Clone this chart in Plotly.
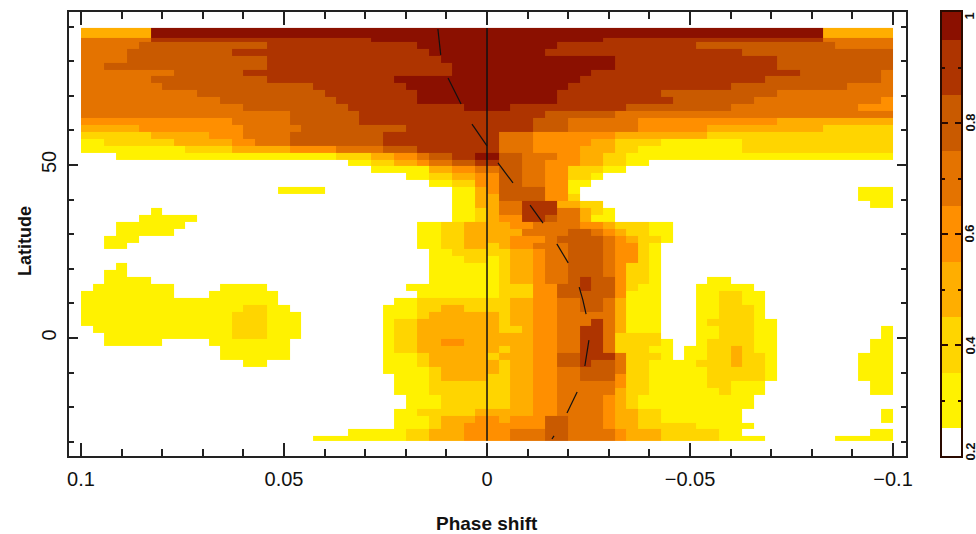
import numpy as np
import plotly.graph_objects as go

# Phase-shift grid (70 columns from +0.1 to -0.1) and latitude rows (north to south)
phase_edges = np.linspace(0.1, -0.1, 71)
lat_edges = [89.6, 86.8] + [round(85.6 - 2 * i, 1) for i in range(58)] + [-29.7]

band_colors = ["#ffffff", "#fff200", "#ffd500", "#ffae00", "#ff8f00",
               "#e47300", "#c95a00", "#ae3400", "#8b1000"]
band_values = [0.2, 0.3, 0.4, 0.5, 0.6, 0.7, 0.8, 0.9, 1.0]
bar_edges = [0.2, 0.25, 0.35, 0.45, 0.55, 0.65, 0.75, 0.85, 0.95, 1.0]

# Each row: "band@end_column" runs
band_rows = [
    "3@6 8@64 3@70",
    "5@6 7@25 8@45 7@64 5@70",
    "5@5 6@16 7@29 8@41 7@53 6@65 5@70",
    "5@4 6@13 7@30 8@40 7@57 6@70",
    "5@4 6@16 7@31 8@46 7@60 6@70",
    "5@2 6@16 7@32 8@46 7@60 6@70",
    "5@8 6@14 7@32 8@44 7@62 6@69 5@70",
    "5@6 6@16 7@27 8@43 7@59 6@69 5@70",
    "5@7 6@20 7@28 8@42 7@56 6@66 5@70",
    "5@10 6@21 7@29 8@41 7@50 6@60 5@70",
    "5@12 6@22 7@29 8@41 7@51 6@58 5@69 4@70",
    "5@14 6@23 7@33 8@37 7@47 6@56 5@67 4@70",
    "5@18 6@24 7@40 6@46 5@70",
    "4@13 5@18 6@24 7@39 6@42 5@48 4@60 3@70",
    "3@5 4@14 5@19 6@28 7@39 6@42 5@48 4@54 3@64 2@70",
    "2@6 3@11 4@14 5@18 6@26 7@36 5@39 4@46 3@54 2@70",
    "1@2 2@8 3@13 4@15 5@18 6@26 7@36 5@39 4@44 3@46 2@50 1@57 2@70",
    "1@9 2@13 3@18 4@22 5@26 6@29 7@36 5@39 4@43 3@46 2@48 1@57 2@70",
    "0@3 1@22 2@25 3@27 4@29 5@30 6@32 7@34 8@36 6@38 5@41 4@43 3@45 2@47 1@70",
    "0@23 1@25 2@27 3@29 4@30 5@32 6@34 7@36 6@38 5@40 4@43 3@45 2@47 1@49 0@70",
    "0@25 1@30 3@32 4@34 5@36 6@38 5@40 4@42 2@45 1@47 0@70",
    "0@28 1@30 2@32 3@34 4@36 6@38 5@40 4@42 2@44 1@45 0@70",
    "0@30 1@32 2@34 4@36 6@38 5@40 4@42 1@44 0@70",
    "0@17 1@21 0@32 1@34 3@35 4@36 6@40 4@42 1@43 0@67 1@70",
    "0@32 1@34 3@36 6@40 4@42 2@43 0@67 1@70",
    "0@32 1@34 3@36 5@38 7@41 3@43 2@45 0@68 1@70",
    "0@6 1@7 0@32 1@34 2@35 3@36 5@38 7@41 5@43 3@44 2@45 1@46 0@70",
    "0@5 1@10 0@32 1@34 2@35 3@36 4@38 7@40 6@41 5@43 3@44 1@46 0@70",
    "0@3 1@9 0@29 1@31 2@33 3@37 4@39 5@43 4@45 3@46 2@49 1@51 0@70",
    "0@3 1@8 0@29 1@31 2@33 3@38 5@42 6@44 5@45 4@46 3@47 2@49 1@51 0@70",
    "0@2 1@5 0@29 1@31 2@33 3@37 4@40 5@41 6@45 5@46 4@47 3@48 2@50 1@51 0@70",
    "0@2 1@4 0@29 1@31 2@33 3@35 2@36 3@37 4@39 5@42 6@45 5@46 4@48 2@49 1@50 0@70",
    "0@30 1@32 2@37 3@39 4@40 5@42 6@45 5@46 4@48 2@49 1@50 0@70",
    "0@30 1@33 2@35 1@36 2@37 3@39 4@40 5@42 6@45 5@46 4@48 2@49 1@50 0@70",
    "0@3 1@4 0@30 1@36 2@37 3@39 4@40 5@42 6@45 5@46 4@47 2@49 1@50 0@70",
    "0@2 1@4 0@30 1@36 2@37 3@39 4@40 5@42 6@45 5@46 4@47 2@49 1@50 0@70",
    "0@2 1@6 0@30 1@36 2@37 3@39 4@40 5@42 6@43 7@44 6@46 4@47 2@49 1@50 0@54 1@56 0@70",
    "0@1 1@8 0@12 1@16 0@28 1@36 2@39 4@41 6@43 7@44 6@46 4@47 2@48 1@50 0@53 1@58 0@70",
    "1@8 0@11 1@17 0@29 1@36 2@39 4@41 6@46 4@47 1@50 0@53 1@55 2@57 1@59 0@70",
    "1@17 0@27 1@29 2@37 3@39 4@41 5@43 6@45 5@46 3@47 1@50 0@53 1@55 2@57 1@59 0@70",
    "1@14 2@16 1@18 0@26 1@29 2@31 3@33 2@37 3@39 4@41 5@43 6@45 5@46 3@47 1@50 0@53 1@55 2@58 1@59 0@70",
    "1@13 2@16 1@19 0@26 1@29 2@30 3@36 2@37 3@39 4@41 5@46 3@47 1@50 0@53 1@55 2@58 1@59 0@70",
    "1@13 2@16 1@19 0@26 1@27 2@29 3@36 2@37 3@39 4@41 5@44 7@45 5@46 3@47 1@50 0@53 1@54 2@58 1@60 0@70",
    "0@1 1@13 2@16 1@19 0@26 1@27 2@29 3@36 2@38 3@39 4@41 5@43 7@45 5@46 3@47 1@50 0@53 1@55 2@58 1@60 0@69 1@70",
    "0@2 1@13 2@16 1@19 0@26 1@27 2@29 3@36 3@39 4@41 5@43 7@45 5@46 2@50 0@53 1@55 2@58 1@60 0@69 1@70",
    "0@2 1@7 0@11 1@18 0@26 1@27 2@29 3@31 4@33 3@36 3@39 4@41 5@43 7@45 5@46 2@50 1@51 0@53 1@54 2@58 1@60 0@68 1@70",
    "0@12 1@18 0@26 1@27 2@29 3@36 2@37 3@39 4@41 5@43 7@45 5@46 2@49 1@51 0@52 1@54 2@56 3@57 2@58 1@60 0@68 1@70",
    "0@12 1@18 0@26 1@29 2@30 3@35 2@36 3@39 4@41 6@43 7@46 5@47 2@50 1@51 0@52 1@54 2@56 3@57 2@59 1@60 0@67 1@70",
    "0@14 1@16 0@26 1@29 2@30 3@36 2@37 3@39 4@41 6@43 7@44 6@46 5@47 2@49 1@53 2@56 3@57 2@59 1@60 0@67 1@70",
    "0@26 1@30 2@31 3@36 2@37 3@39 4@41 5@43 6@46 5@47 2@49 1@54 2@59 1@60 0@67 1@70",
    "0@27 1@30 2@31 3@35 2@37 3@39 4@41 5@43 6@46 4@47 2@49 1@54 2@59 1@60 0@67 1@70",
    "0@27 1@30 2@37 3@39 4@41 5@46 4@47 2@49 1@54 2@56 1@59 0@68 1@70",
    "0@27 1@30 2@37 3@39 4@41 5@46 3@47 2@49 1@55 2@56 1@59 0@68 1@70",
    "0@28 1@31 2@37 3@39 4@41 5@45 4@46 3@47 2@48 1@58 0@70",
    "0@28 1@31 2@37 3@39 4@41 5@45 4@46 3@47 2@48 1@58 0@70",
    "0@27 1@29 2@34 3@39 4@41 5@45 4@46 3@48 2@50 1@57 0@69 1@70",
    "0@27 1@30 2@31 3@34 4@36 3@37 4@40 6@42 5@45 4@46 3@48 2@50 1@57 0@69 1@70",
    "0@27 1@30 2@31 3@33 4@40 6@42 5@45 4@46 3@48 2@53 1@58 0@70",
    "0@23 1@28 2@30 3@33 4@37 5@40 6@42 5@46 4@47 3@50 2@55 1@57 0@68 1@70",
    "0@20 1@28 2@30 3@33 4@37 5@40 6@42 5@46 4@47 3@50 2@55 1@59 0@65 1@70",
]

# Dashed ridge line and zero line
ridge_phase = [0.0121, 0.0114, None, 0.0096, 0.0064, None, 0.0037, 0.0, None,
               -0.0027, -0.0064, None, -0.0106, -0.0138, None, -0.0172, -0.020, None,
               -0.0227, -0.0236, -0.0244, None, -0.0251, -0.0241, None,
               -0.0222, -0.0197, None, -0.0165, -0.016]
ridge_lat = [89.3, 81.8, None, 75.1, 67.6, None, 61.8, 55.5, None,
             50.6, 44.8, None, 38.4, 33.2, None, 27.2, 21.7, None,
             14.7, 11.0, 6.9, None, -0.6, -8.1, None,
             -15.6, -21.7, None, -28.3, -29.2]
zero_phase = [0, 0]
zero_lat = [89.6, -29.7]

phase_ticks = [0.1, 0.05, 0, -0.05, -0.1]
phase_labels = ["0.1", "0.05", "0", "\u22120.05", "\u22120.1"]
lat_ticks = [50, 0]
lat_labels = ["50", "0"]
bar_ticks = [0.2, 0.4, 0.6, 0.8, 1.0]
bar_labels = ["0.2", "0.4", "0.6", "0.8", "1"]
bar_label_y = [452, 345, 234, 123, 16]


def expand(row):
    out = []
    for run in row.split():
        level, end = run.split("@")
        out += [band_values[int(level)]] * (int(end) - len(out))
    return out


z = [expand(r) for r in band_rows]

# Body margin removed by the post script, so figure pixels are window pixels
W, H = 976, 534


def px(x):
    return x / W


def py(y):
    return (H - y) / H


scale = []
n = len(band_colors)
for i, c in enumerate(band_colors):
    scale += [[i / n, c], [(i + 1) / n, c]]

fig = go.Figure()
fig.add_trace(go.Heatmap(x=phase_edges, y=lat_edges, z=z, colorscale=scale,
                         zmin=0.15, zmax=1.05, showscale=False, hoverinfo="skip"))
fig.add_trace(go.Scatter(x=zero_phase, y=zero_lat, mode="lines",
                         line=dict(color="#111111", width=1.5), showlegend=False))
fig.add_trace(go.Scatter(x=ridge_phase, y=ridge_lat, mode="lines",
                         line=dict(color="#111111", width=1.2), showlegend=False))
fig.add_trace(go.Heatmap(x=[0, 1], y=bar_edges, z=[[v] for v in band_values],
                         colorscale=scale, zmin=0.15, zmax=1.05, showscale=False,
                         hoverinfo="skip", xaxis="x2", yaxis="y2"))

font = dict(family="Liberation Sans", color="#111111")
bar_notes = [dict(text="<b>" + t + "</b>", x=px(969.5), y=py(yy),
                  xref="paper", yref="paper", showarrow=False, textangle=-90,
                  font=dict(size=13, **font), xanchor="center", yanchor="middle")
             for t, yy in zip(bar_labels, bar_label_y)]
fig.update_layout(
    width=W, height=H, margin=dict(l=0, r=0, t=0, b=0, pad=0, autoexpand=False),
    paper_bgcolor="white", plot_bgcolor="white", showlegend=False,
    xaxis=dict(domain=[px(69), px(906)], range=[0.10296, -0.1032], anchor="y",
               automargin=False,
               showgrid=False, zeroline=False, showline=True, linecolor="#222222",
               linewidth=2, mirror="allticks", ticks="inside", ticklen=13, tickwidth=1.5,
               tickcolor="#222222", tickvals=phase_ticks, ticktext=phase_labels,
               tickfont=dict(size=20, **font), ticklabelstandoff=4,
               minor=dict(ticks="inside", ticklen=7, tickwidth=1.5, tickcolor="#222222",
                          tick0=0, dtick=0.01)),
    yaxis=dict(domain=[py(456), py(12)], range=[-34.1, 94.2], anchor="x",
               automargin=False,
               showgrid=False, zeroline=False, showline=True, linecolor="#222222",
               linewidth=2, mirror="allticks", ticks="inside", ticklen=9, tickwidth=1.5,
               tickcolor="#222222", tickvals=lat_ticks, ticktext=lat_labels, tickangle=-90,
               tickfont=dict(size=20, **font), ticklabelstandoff=3,
               minor=dict(ticks="inside", ticklen=5, tickwidth=1.5, tickcolor="#222222",
                          tick0=0, dtick=10)),
    xaxis2=dict(domain=[px(942), px(961)], range=[0, 1], anchor="y2", showgrid=False,
                automargin=False,
                zeroline=False, showline=True, linecolor="#2a0a00", linewidth=2,
                mirror=True, showticklabels=False, ticks=""),
    yaxis2=dict(domain=[py(456), py(12)], range=[0.2, 1], anchor="x2",
                automargin=False,
                side="right", showgrid=False, zeroline=False, showline=True,
                linecolor="#2a0a00", linewidth=2, mirror="allticks", ticks="inside",
                ticklen=6, tickwidth=1.5, tickcolor="#2a0a00", tickvals=bar_ticks,
                showticklabels=False,
                minor=dict(ticks="inside", ticklen=3, tickwidth=1.5, tickcolor="#2a0a00",
                           tick0=0.2, dtick=0.1)),
    annotations=[
        dict(text="<b>Phase shift</b>", x=px(487), y=py(523), xref="paper", yref="paper",
             showarrow=False, font=dict(size=19, **font), xanchor="center", yanchor="middle"),
        dict(text="<b>Latitude</b>", x=px(25), y=py(241), xref="paper", yref="paper",
             showarrow=False, textangle=-90, font=dict(size=18, **font),
             xanchor="center", yanchor="middle"),
    ] + bar_notes,
)
fig.write_html("out.html", config={"displayModeBar": False},
               post_script="document.body.style.margin='0';document.documentElement.style.overflow='hidden';")
